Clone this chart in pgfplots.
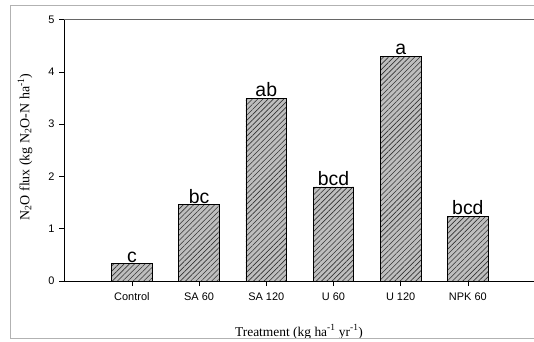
\documentclass[border=0pt]{standalone}
\usepackage{fontspec}
\setmainfont{Liberation Serif}
\newfontfamily\arial{Liberation Sans}
\usepackage{pgfplots}
\pgfplotsset{compat=1.18}
\usetikzlibrary{patterns.meta}

\pgfplotstableread{
x  y     grp
0  0.33  c
1  1.46  bc
2  3.49  ab
3  1.80  bcd
4  4.30  a
5  1.24  bcd
}\fluxdata

\begin{document}
\begin{tikzpicture}[x=1bp,y=1bp]
% visible page
\path[use as bounding box] (-64,-60) rectangle (470,281);
\clip (-64,-60) rectangle (470,281);
\begin{axis}[
  at={(0,0)}, anchor=south west,
  scale only axis,
  width=480bp, height=261.5bp,
  xmin=-1.01, xmax=6.133,
  ymin=0, ymax=5,
  axis lines=left,
  axis line style={-, line width=0.8pt},
  ytick={0,1,2,3,4,5},
  xtick={0,1,2,3,4,5},
  xticklabels={Control, SA 60, SA 120, U 60, U 120, NPK 60},
  tick align=outside,
  tick style={black, line width=0.6pt},
  major tick length=5bp,
  yticklabel style={font=\arial\fontsize{11}{13}\selectfont, xshift=-1bp},
  xticklabel style={font=\arial\fontsize{11}{13}\selectfont, yshift=-3bp},
  /pgf/number format/assume math mode=true,
  clip=false,
]
\addplot[
  ybar, bar width=40.6bp,
  draw=black, line width=0.6pt,
  fill={rgb,255:red,190;green,190;blue,190},
  postaction={pattern={Lines[angle=45,distance=3.7bp,line width=0.6bp]}, pattern color=black!80},
  nodes near coords,
  point meta=explicit symbolic,
  every node near coord/.append style={font=\arial\fontsize{19.5}{21}\selectfont, anchor=south, inner sep=0pt, yshift=1bp, black},
] table[x=x, y=y, meta=grp] {\fluxdata};
\draw[line width=0.8pt, black!60] (rel axis cs:0,1) -- (rel axis cs:1,1);
\end{axis}
% axis titles
\node[rotate=90, font=\fontsize{14}{16}\selectfont] at (-39,134)
  {N\textsubscript{2}O flux (kg N\textsubscript{2}O-N ha\textsuperscript{-1})};
\node[anchor=base, font=\fontsize{13.5}{15}\selectfont] at (235,-55)
  {Treatment (kg ha\textsuperscript{-1} yr\textsuperscript{-1})};
% outer frame
\draw[line width=0.9pt, black!30] (500,276) -- (-54,276) -- (-54,-57) -- (500,-57);
\end{tikzpicture}
\end{document}
